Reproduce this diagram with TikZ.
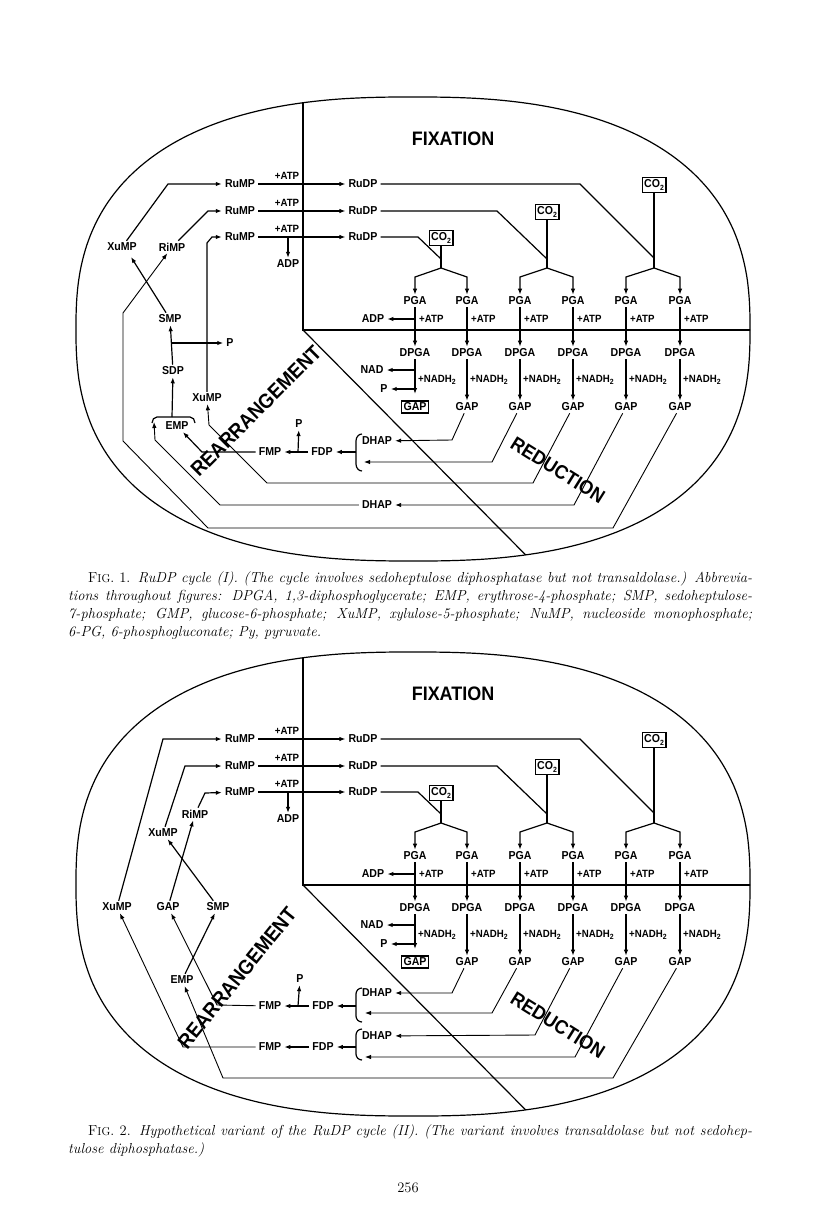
\documentclass[tikz,border=0pt]{standalone}
\usepackage{fontspec}
\newfontfamily\labfont[FakeStretch=0.92]{Liberation Sans}
\usetikzlibrary{arrows.meta,calc}
\newcommand\tsub[1]{\raisebox{-0.25em}{\fontsize{7.5}{7.5}\selectfont #1}}
\tikzset{
  lab/.style={font=\labfont\bfseries\fontsize{11.5}{11.5}\selectfont, inner xsep=3pt, inner ysep=2pt},
  sml/.style={font=\labfont\bfseries\fontsize{10.5}{10.5}\selectfont, inner sep=1pt},
  big/.style={font=\labfont\bfseries\fontsize{19.5}{19.5}\selectfont, inner sep=0pt},
  bigr/.style={font=\labfont\bfseries\fontsize{20.5}{20.5}\selectfont, inner sep=0pt},
  boxed/.style={draw, line width=1.3pt, inner xsep=2pt, inner ysep=2pt},
  ln/.style={line width=1.2pt},
  thn/.style={line width=0.9pt},
  ar/.style={-{Latex[length=6pt,width=4.5pt]}},
  ell/.style={line width=1.2pt},
  captxt/.style={font=\fontsize{14.5}{18}\selectfont, inner sep=0pt, anchor=base west},
}
\newcommand\blobpath{plot[domain=1:358,samples=120,smooth cycle] ({413+337*sign(cos(\x))*pow(abs(cos(\x)),0.8)},{329+232*sign(sin(\x))*pow(abs(sin(\x)),0.8)})}
\newcommand\commonfig{%
  \draw[ell] \blobpath;
  \begin{scope}
    \clip \blobpath;
    \draw[ln] (303,0) -- (303,330) -- (800,330);
    \draw[ln] (303,330) -- (600,630);
  \end{scope}
  \node[big] (fix) at (453,139) {FIXATION};
  \node[big,rotate=-32] (red) at (558,470) {REDUCTION};
  \foreach \r/\y in {1/184,2/211,3/237} {
    \node[lab] (RuMP\r) at (240,\y) {RuMP};
    \node[lab] (RuDP\r) at (363,\y) {RuDP};
    \node[sml] (ATPt\r) at (287,\y-8) {+ATP};
    \draw[ln,ar] (RuMP\r) -- (RuDP\r);
  }
  \coordinate (adps) at (288,237);
  \node[lab] (ADP0) at (288,264) {ADP};
  \draw[ln,ar] (adps) -- (ADP0);
  \node[lab,boxed] (co1) at (441,238) {CO\tsub{2}};
  \node[lab,boxed] (co2) at (547,212) {CO\tsub{2}};
  \node[lab,boxed] (co3) at (654,185) {CO\tsub{2}};
  \coordinate (j1) at (441,268);
  \coordinate (j2) at (547,268);
  \coordinate (j3) at (654,268);
  \coordinate (m1) at (441,259);
  \coordinate (m2) at (547,259);
  \coordinate (m3) at (654,258);
  \draw[ln] (co1) -- (j1);
  \draw[ln] (co2) -- (j2);
  \draw[ln] (co3) -- (j3);
  \draw[ln] (RuDP3) -- (418,237) -- (m1);
  \draw[ln] (RuDP2) -- (497,211) -- (m2);
  \draw[ln] (RuDP1) -- (580,184) -- (m3);
  \foreach \i/\x in {1/415,2/467,3/520,4/573,5/626,6/680} {
    \node[lab] (PGA\i) at (\x,301) {PGA};
    \node[lab] (DPGA\i) at (\x,353) {DPGA};
    \draw[ln,ar] (PGA\i) -- (DPGA\i);
    \node[sml,anchor=west] at (\x+3,319) {+ATP};
    \node[sml,anchor=west] at (\x+2,380) {+NADH\tsub{2}};
  }
  \foreach \i/\x in {2/467,3/520,4/573,5/626,6/680} {
    \node[lab] (GAP\i) at (\x,407) {GAP};
    \draw[ln,ar] (DPGA\i) -- (GAP\i);
  }
  \draw[ln,ar] (j1) -- (415,277) -- (PGA1);
  \draw[ln,ar] (j1) -- (467,277) -- (PGA2);
  \draw[ln,ar] (j2) -- (520,277) -- (PGA3);
  \draw[ln,ar] (j2) -- (573,277) -- (PGA4);
  \draw[ln,ar] (j3) -- (626,277) -- (PGA5);
  \draw[ln,ar] (j3) -- (680,277) -- (PGA6);
  \node[lab] (ADP1) at (373,319) {ADP};
  \coordinate (adp1s) at (415,319);
  \draw[ln,ar] (adp1s) -- (ADP1);
  \node[lab] (NAD) at (372,370) {NAD};
  \coordinate (nads) at (415,370);
  \draw[ln,ar] (nads) -- (NAD);
  \node[lab] (Pr) at (384,389) {P};
  \coordinate (prs) at (415,389);
  \draw[ln,ar] (prs) -- (Pr);
  \coordinate (c1e) at (415,394);
  \draw[ln,ar] (DPGA1) -- (c1e);
  \node[lab,boxed] (GAP1) at (415,407) {GAP};
}
\begin{document}
\begin{tikzpicture}[x=1pt,y=-1pt]
\fill[white] (0,0) rectangle (816,1222);
\useasboundingbox (0,0) rectangle (816,1222);
% ================= FIGURE 1 =================
\begin{scope}[name prefix=a-]
  \commonfig
  \node[bigr,rotate=45] (rearr) at (256,411) {REARRANGEMENT};
  \node[lab] (XuMP1) at (122,247) {XuMP};
  \node[lab] (RiMP1) at (172,247) {RiMP};
  \node[lab] (SMP1) at (170,319) {SMP};
  \node[lab] (SDP1) at (173,371) {SDP};
  \node[lab] (EMP1) at (177,426) {EMP};
  \node[lab] (Pa) at (230,343) {P};
  \node[lab] (XuMP2) at (207,398) {XuMP};
  \node[lab] (FMP1) at (270,452) {FMP};
  \node[lab] (FDP1) at (322,452) {FDP};
  \node[lab] (Pb) at (299,424) {P};
  \node[lab] (DHAP1) at (377,441) {DHAP};
  \node[lab] (DHAP2) at (377,505) {DHAP};
  \coordinate (xin) at (131,257);
  \draw[ln,ar] (XuMP1) -- (168,184) -- (RuMP1);
  \draw[ln,ar] (RiMP1) -- (208,211) -- (RuMP2);
  \draw[ln,ar] (XuMP2) -- (207,243) -- (212,237) -- (RuMP3);
  \draw[ln,ar] (SMP1) -- (xin);
  \draw[ln,ar] (SDP1) -- (SMP1);
  \coordinate (pas) at (171,343);
  \draw[ln,ar] (pas) -- (Pa);
  \draw[ln] (152,423) to[out=90,in=180] (157,417) -- (190,417) to[out=0,in=90] (195,423);
  \coordinate (embt) at (172,417);
  \draw[ln,ar] (embt) -- (SDP1);
  \coordinate (embl) at (154,422);
  \draw[ln] (362,434) to[out=180,in=90] (356,441) -- (356,464) to[out=-90,in=180] (362,471);
  \coordinate (br1) at (356,452);
  \coordinate (br1low) at (364,462);
  \draw[ln,ar] (br1) -- (FDP1);
  \draw[ln,ar] (FDP1) -- (FMP1);
  \coordinate (pbs) at (298,452);
  \draw[ln,ar] (pbs) -- (Pb);
  \draw[ln,ar] (FMP1) -- (202,452) -- (EMP1);
  \draw[thn,ar] (GAP2) -- (452,440) -- (DHAP1);
  \draw[thn,ar] (GAP3) -- (492,462) -- (br1low);
  \draw[thn,ar] (GAP4) -- (533,483) -- (267,483) -- (209,425) -- (XuMP2);
  \draw[thn,ar] (GAP5) -- (574,505) -- (DHAP2);
  \draw[thn,ar] (DHAP2) -- (220,505) -- (155,440) -- (embl);
  \draw[thn,ar] (GAP6) -- (613,528) -- (208,528) -- (123,441) -- (123,313) -- (RiMP1);
\end{scope}
% ================= FIGURE 2 =================
\begin{scope}[name prefix=b-, yshift=-555pt]
  \commonfig
\end{scope}
\begin{scope}[name prefix=b-]
  \node[bigr,rotate=51] (rearr) at (237,978) {REARRANGEMENT};
  \node[lab] (XuMPa) at (163,833) {XuMP};
  \node[lab] (RiMPb) at (195,814) {RiMP};
  \node[lab] (XuMPb) at (117,907) {XuMP};
  \node[lab] (GAPl) at (168,907) {GAP};
  \node[lab] (SMPl) at (218,907) {SMP};
  \node[lab] (EMP2) at (182,980) {EMP};
  \node[lab] (Pc) at (300,979) {P};
  \node[lab] (FMPa) at (270,1006) {FMP};
  \node[lab] (FDPa) at (323,1006) {FDP};
  \node[lab] (DHAPa) at (377,993) {DHAP};
  \node[lab] (FMPb) at (270,1047) {FMP};
  \node[lab] (FDPb) at (323,1047) {FDP};
  \node[lab] (DHAPb) at (377,1036) {DHAP};
  \draw[ln,ar] (XuMPb) -- (163,739) -- (RuMP1);
  \draw[ln,ar] (XuMPa) -- (185,766) -- (RuMP2);
  \draw[ln,ar] (RiMPb) -- (205,793) -- (RuMP3);
  \draw[ln,ar] (GAPl) -- (RiMPb);
  \draw[ln,ar] (SMPl) -- (XuMPa);
  \draw[ln,ar] (EMP2) -- (SMPl);
  \draw[ln] (362,988) to[out=180,in=90] (356,994) -- (356,1016) to[out=-90,in=180] (362,1022);
  \draw[ln] (362,1029) to[out=180,in=90] (356,1035) -- (356,1054) to[out=-90,in=180] (362,1060);
  \coordinate (bra) at (356,1006);
  \coordinate (brb) at (356,1047);
  \coordinate (bralow) at (365,1013);
  \coordinate (brblow) at (365,1057);
  \draw[ln,ar] (bra) -- (FDPa);
  \draw[ln,ar] (brb) -- (FDPb);
  \draw[ln,ar] (FDPa) -- (FMPa);
  \draw[ln,ar] (FDPb) -- (FMPb);
  \coordinate (pcs) at (298,1006);
  \draw[ln,ar] (pcs) -- (Pc);
  \draw[thn,ar] (FMPa) -- (217,1005) -- (GAPl);
  \draw[thn,ar] (FMPb) -- (183,1047) -- (XuMPb);
  \draw[thn,ar] (GAP2) -- (452,993) -- (DHAPa);
  \draw[thn,ar] (GAP3) -- (492,1013) -- (bralow);
  \draw[thn,ar] (GAP4) -- (535,1035) -- (DHAPb);
  \draw[thn,ar] (GAP5) -- (575,1057) -- (brblow);
  \draw[thn,ar] (GAP6) -- (613,1078) -- (223,1078) -- (EMP2);
\end{scope}
% ================= CAPTIONS =================
\node[captxt] (c1a) at (88,582) {\makebox[664pt][s]{F{\fontsize{11.5}{11.5}\selectfont IG}. 1. \textit{RuDP cycle (I). (The cycle involves sedoheptulose diphosphatase but not transaldolase.) Abbrevia-}}};
\node[captxt] (c1b) at (68,600) {\makebox[684pt][s]{\textit{tions throughout figures: DPGA, 1,3-diphosphoglycerate; EMP, erythrose-4-phosphate; SMP, sedoheptulose-}}};
\node[captxt] (c1c) at (68,618) {\makebox[684pt][s]{\textit{7-phosphate; GMP, glucose-6-phosphate; XuMP, xylulose-5-phosphate; NuMP, nucleoside monophosphate;}}};
\node[captxt] (c1d) at (68,636) {\textit{6-PG, 6-phosphogluconate; Py, pyruvate.}};
\node[captxt] (c2a) at (88,1135) {\makebox[664pt][s]{F{\fontsize{11.5}{11.5}\selectfont IG}. 2. \textit{Hypothetical variant of the RuDP cycle (II). (The variant involves transaldolase but not sedohep-}}};
\node[captxt] (c2b) at (68,1153) {\textit{tulose diphosphatase.)}};
\node[captxt,anchor=base] (pg) at (408,1192) {256};
\end{tikzpicture}
\end{document}
